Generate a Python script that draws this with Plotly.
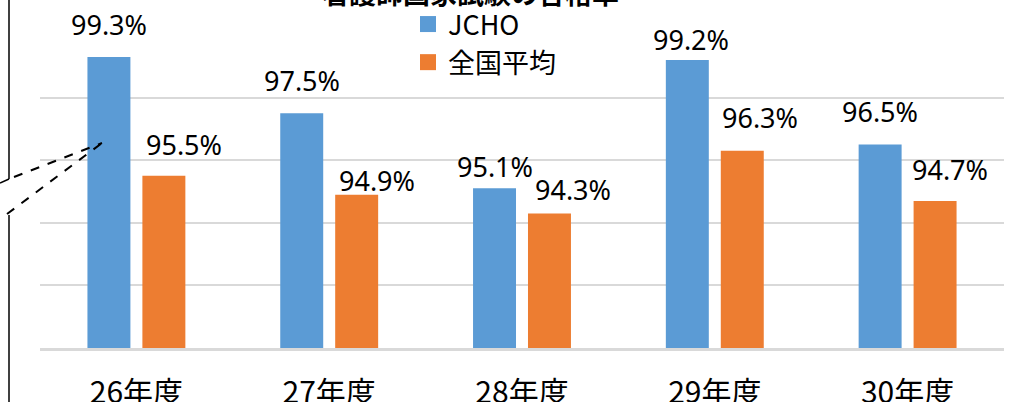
import plotly.graph_objects as go

# ---- data ----
categories = ["26年度", "27年度", "28年度", "29年度", "30年度"]
jcho = [99.3, 97.5, 95.1, 99.2, 96.5]
national = [95.5, 94.9, 94.3, 96.3, 94.7]
series_names = ["JCHO", "全国平均"]
title_text = "看護師国家試験の合格率"

# ---- label nudges (px) ----
jcho_dx = [0, 0, 0, 4, 0]
jcho_gap = [20, 20, 9, 8, 21]
nat_dx = [20, 20, 23, 18, 15]
nat_gap = [19, 2, 11, 21, 19]

BLUE = "#5B9BD5"
ORANGE = "#ED7D31"
W, H = 1017, 402
L, R, T, B = 40, 13, 35, 54
PW, PH = W - L - R, H - T - B


def px(x):
    return (x - L) / PW


def py(y):
    return (H - B - y) / PH


fig = go.Figure()
fig.add_trace(go.Bar(x=categories, y=jcho, name=series_names[0], marker_color=BLUE,
                     showlegend=False, marker_line_width=0))
fig.add_trace(go.Bar(x=categories, y=national, name=series_names[1], marker_color=ORANGE,
                     showlegend=False, marker_line_width=0))
# legend entries
for nm, col in zip(series_names, [BLUE, ORANGE]):
    fig.add_trace(go.Scatter(x=[None], y=[None], mode="markers", name=nm,
                             marker=dict(symbol="square", size=16, color=col)))

label_font = dict(family="Noto Sans, Noto Sans CJK JP", size=27, color="#000000")
half_slot = 27.5
ann = []
for i, c in enumerate(categories):
    ann.append(dict(x=c, y=jcho[i], xref="x", yref="y", text=f"{jcho[i]:.1f}%",
                    showarrow=False, xshift=-half_slot + jcho_dx[i],
                    yanchor="bottom", yshift=jcho_gap[i] - 8, font=label_font))
    ann.append(dict(x=c, y=national[i], xref="x", yref="y", text=f"{national[i]:.1f}%",
                    showarrow=False, xshift=half_slot + nat_dx[i],
                    yanchor="bottom", yshift=nat_gap[i] - 8, font=label_font))

ann.append(dict(x=px(470), y=py(-8), xref="paper", yref="paper", text=f"<b>{title_text}</b>",
                showarrow=False, xanchor="center", yanchor="middle",
                font=dict(family="Noto Sans CJK JP", size=27, color="#000000")))

line_style = dict(color="#000000", width=1.5)
dash_style = dict(color="#000000", width=2, dash="dash")
shapes = [
    dict(type="line", xref="paper", yref="paper", x0=px(9), y0=py(0), x1=px(9), y1=py(179), line=line_style),
    dict(type="line", xref="paper", yref="paper", x0=px(9), y0=py(179), x1=px(0), y1=py(183), line=line_style),
    dict(type="line", xref="paper", yref="paper", x0=px(14), y0=py(177), x1=px(102), y1=py(143), line=dash_style),
    dict(type="line", xref="paper", yref="paper", x0=px(7), y0=py(214), x1=px(102), y1=py(143), line=dash_style),
    dict(type="line", xref="paper", yref="paper", x0=px(9), y0=py(215), x1=px(9), y1=py(402), line=line_style),
]

fig.update_layout(
    width=W, height=H,
    margin=dict(l=L, r=R, t=T, b=B, pad=0, autoexpand=False),
    paper_bgcolor="white", plot_bgcolor="white",
    barmode="group", bargap=0.43, bargroupgap=0.218,
    annotations=ann, shapes=shapes,
    legend=dict(x=408 / W, y=1.0, xref="container", yref="container", xanchor="left", yanchor="top",
                font=dict(family="Noto Sans CJK JP", size=27, color="#000000"),
                bgcolor="rgba(0,0,0,0)", itemsizing="trace", tracegroupgap=0),
    xaxis=dict(showgrid=False, showline=True, linecolor="#D9D9D9", linewidth=2.5,
               ticks="", tickfont=dict(family="Noto Sans CJK JP", size=30, color="#000000"),
               ticklabelstandoff=16, automargin=False),
    yaxis=dict(range=[90, 100], dtick=2, showticklabels=False, showgrid=True,
               gridcolor="#D9D9D9", gridwidth=2, zeroline=False, showline=False,
               automargin=False),
)

fig.write_html("out.html", config={"displayModeBar": False},
               post_script="document.body.style.margin='0px';")
